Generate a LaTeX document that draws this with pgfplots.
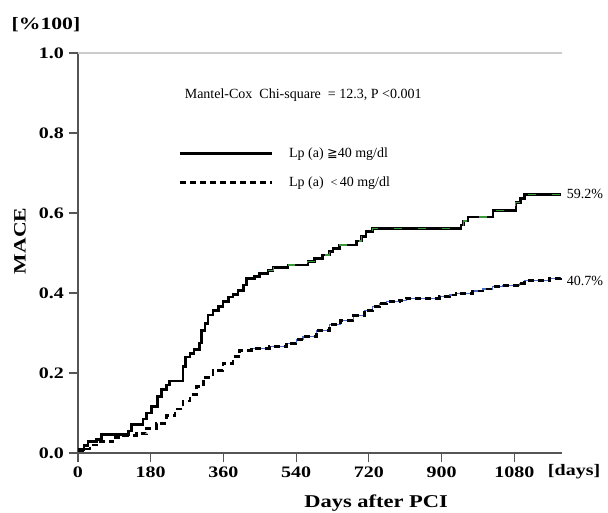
\documentclass[border=0pt]{standalone}
\usepackage{fontspec}
\setmainfont{Liberation Serif}
\newfontfamily\axfont{Liberation Serif}[FakeStretch=1.25]
\newfontfamily\symfont{DejaVu Sans}
\usepackage{pgfplots}
\pgfplotsset{compat=1.18}
\usepackage{pgfplotstable}

\definecolor{axgray}{HTML}{555555}
\definecolor{kmgreen}{HTML}{3A9A3A}
\definecolor{kmblue}{HTML}{4A6CC8}

% Lp(a) >= 40 mg/dl
\pgfplotstableread{
day surv
0 0.008
15 0.018
25 0.028
45 0.033
58 0.047
125 0.055
133 0.072
161 0.085
170 0.100
182 0.116
196 0.141
207 0.158
219 0.170
227 0.180
260 0.216
266 0.240
277 0.249
287 0.258
300 0.275
306 0.307
314 0.324
322 0.345
334 0.357
347 0.366
359 0.378
372 0.390
384 0.397
396 0.407
409 0.420
417 0.437
437 0.442
450 0.449
470 0.457
483 0.464
520 0.470
569 0.478
586 0.487
606 0.495
623 0.503
631 0.512
648 0.520
689 0.530
701 0.541
713 0.553
729 0.562
948 0.570
955 0.580
965 0.590
1027 0.607
1084 0.626
1095 0.637
1105 0.647
1195 0.647
}\highlp

% Lp(a) < 40 mg/dl
\pgfplotstableread{
day surv
0 0.005
20 0.010
30 0.020
50 0.028
87 0.039
112 0.043
145 0.048
170 0.062
194 0.074
219 0.093
240 0.110
260 0.130
277 0.146
293 0.166
310 0.189
334 0.207
359 0.224
384 0.241
400 0.257
429 0.262
474 0.266
516 0.274
540 0.283
557 0.291
590 0.307
623 0.322
650 0.332
681 0.343
709 0.357
730 0.366
746 0.374
763 0.378
796 0.382
812 0.387
895 0.391
919 0.395
936 0.399
977 0.405
1002 0.410
1027 0.416
1051 0.418
1092 0.424
1105 0.431
1167 0.437
1195 0.439
}\lowlp

\begin{document}
\begin{tikzpicture}
\useasboundingbox (-58.5pt,-45pt) rectangle (397.5pt,339.75pt);
\begin{axis}[
    scale only axis, width=363pt, height=300pt,
    xmin=0, xmax=1198, ymin=0, ymax=1,
    axis lines*=left,
    axis line style={axgray, line width=0.9pt},
    tick style={axgray, line width=0.9pt},
    tick align=outside, major tick length=7pt,
    xtick={0,180,360,540,720,900,1080},
    ytick={0,0.2,0.4,0.6,0.8,1},
    /pgf/number format/assume math mode=true,
    ticklabel style={font=\axfont\bfseries\fontsize{12}{14}\selectfont},
    yticklabel style={/pgf/number format/.cd, fixed, fixed zerofill, precision=1},
    xticklabel style={/pgf/number format/1000 sep={}},
    clip=false,
    legend style={at={(rel axis cs:0.207,0.77)}, anchor=north west, draw=none, fill=none,
        font=\fontsize{10.5}{12}\selectfont, row sep=9pt, inner sep=0pt,
        cells={anchor=west}, /tikz/every odd column/.style={column sep=10pt}},
    legend image code/.code={\draw[#1] (0pt,0pt) -- (69pt,0pt);},
]
\draw[black!20, line width=1.5pt] (rel axis cs:0,1) -- (rel axis cs:1,1);

\addplot[const plot, black, line width=2pt] table[x=day, y=surv] {\highlp};
\addlegendentry{Lp (a) {\symfont\fontsize{9.5}{12}\selectfont ≧}40 mg/dl}
\addplot[const plot, kmgreen, line width=0.8pt, dash pattern=on 6pt off 12pt, forget plot,
    restrict x to domain=470:1200] table[x=day, y=surv] {\highlp};

\addplot[const plot, kmblue, line width=0.8pt, forget plot,
    restrict x to domain=429:1200] table[x=day, y=surv] {\lowlp};
\addplot[const plot, black, line width=2pt, dash pattern=on 4.5pt off 3pt] table[x=day, y=surv] {\lowlp};
\addlegendentry{Lp (a) \ {\fontsize{9}{12}\selectfont<}\,40 mg/dl}

\node[anchor=west, font=\fontsize{10.5}{12}\selectfont] at (rel axis cs:0.211,0.895)
    {Mantel-Cox\ \ Chi-square\ \ = 12.3, P <0.001};
\node[anchor=west, font=\fontsize{10.5}{12}\selectfont, xshift=1pt] at (axis cs:1195,0.6475) {59.2\%};
\node[anchor=west, font=\fontsize{10.5}{12}\selectfont, xshift=1pt] at (axis cs:1195,0.43) {40.7\%};

\node[font=\axfont\bfseries\fontsize{13.5}{16}\selectfont] at (rel axis cs:0.616,0) [yshift=-37.5pt] {Days after PCI};
\node[font=\axfont\bfseries\fontsize{12}{14}\selectfont] at (rel axis cs:1.025,0) [yshift=-14.25pt] {[days]};
\node[xshift=-43.5pt, rotate=90, font=\axfont\bfseries\fontsize{13}{16}\selectfont] at (rel axis cs:0,0.53) {MACE};
\node[font=\axfont\bfseries\fontsize{13}{16}\selectfont] at (rel axis cs:0,1.07) [xshift=-24pt] {[\%100]};
\end{axis}
\end{tikzpicture}
\end{document}
